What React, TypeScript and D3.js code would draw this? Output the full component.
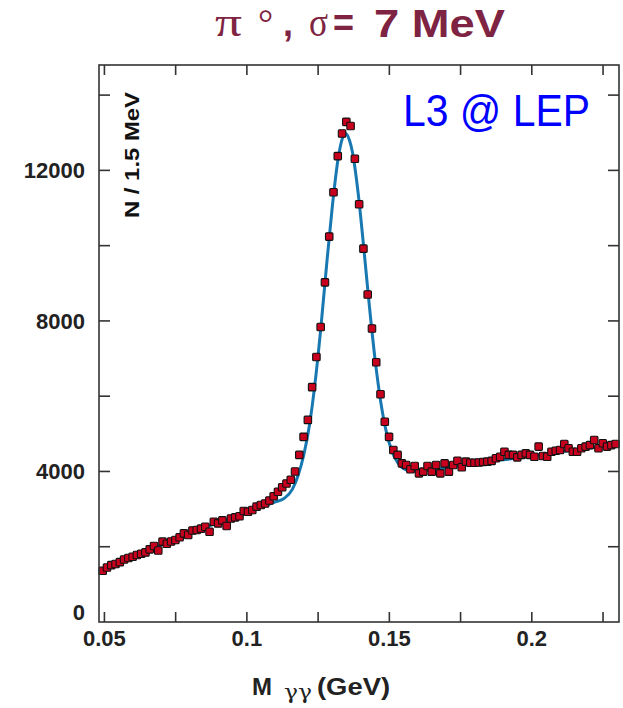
import React from 'react';
import * as d3 from 'd3';

// ---- data ----
const binStart = 0.0494; // GeV, centre of first visible bin
const binWidth = 0.0015; // 1.5 MeV bins
const counts = [
  1363, 1450, 1510, 1540, 1590, 1660, 1700, 1735, 1780, 1815,
  1850, 1930, 2020, 1900, 2135, 2080, 2140, 2180, 2250, 2355,
  2310, 2430, 2445, 2480, 2530, 2400, 2665, 2620, 2700, 2550,
  2750, 2780, 2810, 2950, 2930, 2975, 3065, 3110, 3150, 3230,
  3340, 3460, 3580, 3680, 3780, 4000, 4440, 4920, 5370, 6240,
  7040, 7840, 9025, 10240, 11420, 12380, 12980, 13290, 13180, 12310,
  11100, 9920, 8700, 7800, 6900, 6050, 5320, 4920, 4570, 4440,
  4215, 4170, 4057, 4145, 3950, 3995, 4145, 3995, 4170, 3950,
  4215, 3995, 4170, 4285, 4110, 4260, 4230, 4230, 4240, 4250,
  4260, 4280, 4350, 4390, 4525, 4440, 4440, 4375, 4440, 4480,
  4440, 4390, 4660, 4410, 4390, 4525, 4550, 4570, 4730, 4615,
  4525, 4525, 4615, 4660, 4700, 4835, 4615, 4750, 4660, 4700,
  4730,
];

const fitMass = [
  0.0481, 0.05, 0.06, 0.07, 0.08, 0.09, 0.1, 0.105, 0.11, 0.113,
  0.116, 0.118, 0.12, 0.122, 0.124, 0.126, 0.128, 0.13, 0.132, 0.1335,
  0.1347, 0.136, 0.137, 0.139, 0.141, 0.143, 0.145, 0.147, 0.149, 0.151,
  0.153, 0.156, 0.16, 0.17, 0.18, 0.19, 0.2, 0.21, 0.22, 0.2306,
];
const fitCounts = [
  1340, 1400, 1720, 2050, 2360, 2640, 2900, 3050, 3190, 3280,
  3530, 3900, 4450, 5250, 6400, 7850, 9500, 11050, 12300, 12850,
  12980, 12800, 12500, 11430, 9960, 8390, 6970, 5840, 5030, 4520,
  4225, 4040, 4000, 4100, 4220, 4310, 4420, 4520, 4620, 4700,
];

const xTicks = [0.05, 0.075, 0.1, 0.125, 0.15, 0.175, 0.2, 0.225];
const xTickLabels = ['0.05', '', '0.1', '', '0.15', '', '0.2', ''];
const yTicks = [0, 2000, 4000, 6000, 8000, 10000, 12000, 14000];
const yTickLabels = ['0', '', '4000', '', '8000', '', '12000', ''];

const W = 623;
const H = 708;
const L = 99, R = 619, T = 65, B = 622;

export default function App() {
  const x = d3.scaleLinear().domain([0.0481, 0.2306]).range([L, R]);
  const y = d3.scaleLinear().domain([0, 14800]).range([B, T]);

  const fitPts: [number, number][] = fitMass.map((m, i) => [m, fitCounts[i]]);
  const line = d3
    .line<[number, number]>()
    .x((d) => x(d[0]))
    .y((d) => y(d[1]))
    .curve(d3.curveMonotoneX);

  const pts = counts.map((c, i) => ({ m: binStart + i * binWidth, c }));
  const sz = 7.5;
  const tickLen = 10;
  const font = "'Liberation Sans', Arial, sans-serif";
  const maroon = '#7E2342';

  return (
    <svg
      width={W}
      height={H}
      style={{ position: 'absolute', left: 0, top: 0, background: '#fff' }}
      fontFamily={font}
    >
      <rect width={W} height={H} fill="#fff" />

      {/* title */}
      <g fill={maroon}>
        <text x={215} y={36} fontFamily="'Liberation Serif', serif" fontSize={42} textLength={27} lengthAdjust="spacingAndGlyphs">π</text>
        <text x={258} y={36} fontFamily="'Liberation Serif', serif" fontSize={38}>°</text>
        <text x={283} y={36} fontSize={36} fontWeight="bold">,</text>
        <text x={309} y={36} fontFamily="'Liberation Serif', serif" fontSize={42} textLength={19} lengthAdjust="spacingAndGlyphs">σ</text>
        <text x={333} y={36} fontSize={38} fontWeight="bold" textLength={21} lengthAdjust="spacingAndGlyphs">=</text>
        <text x={374} y={37} fontSize={38} fontWeight="bold" textLength={131} lengthAdjust="spacingAndGlyphs">7 MeV</text>
      </g>

      {/* fit curve */}
      <defs>
        <clipPath id="plotClip">
          <rect x={L} y={T} width={R - L} height={B - T} />
        </clipPath>
      </defs>
      <path d={line(fitPts) || ''} fill="none" stroke="#1778B2" strokeWidth={3} clipPath="url(#plotClip)" />

      {/* data points */}
      <g>
        {pts.map((p, i) => (
          <rect
            key={i}
            x={x(p.m) - sz / 2}
            y={y(p.c) - sz / 2}
            width={sz}
            height={sz}
            rx={1}
            fill="#C8001E"
            stroke="#111"
            strokeWidth={1.1}
          />
        ))}
      </g>

      {/* frame */}
      <rect x={L} y={T} width={R - L} height={B - T} fill="none" stroke="#333" strokeWidth={1.6} />

      {/* x ticks */}
      {xTicks.map((t, i) => (
        <g key={'xt' + i}>
          <line x1={x(t)} x2={x(t)} y1={B} y2={B - tickLen} stroke="#333" strokeWidth={1.6} />
          <line x1={x(t)} x2={x(t)} y1={T} y2={T + tickLen} stroke="#333" strokeWidth={1.6} />
          {xTickLabels[i] && (
            <text x={x(t)} y={646} textAnchor="middle" fontSize={22} fontWeight="bold" fill="#222">
              {xTickLabels[i]}
            </text>
          )}
        </g>
      ))}

      {/* y ticks */}
      {yTicks.map((t, i) => (
        <g key={'yt' + i}>
          {t > 0 && (
            <>
              <line x1={L} x2={L + tickLen + 1} y1={y(t)} y2={y(t)} stroke="#333" strokeWidth={1.6} />
              <line x1={R} x2={R - tickLen - 1} y1={y(t)} y2={y(t)} stroke="#333" strokeWidth={1.6} />
            </>
          )}
          {yTickLabels[i] && (
            <text
              x={85}
              y={t === 0 ? y(t) - 10 : y(t)}
              dy="0.36em"
              textAnchor="end"
              fontSize={22}
              fontWeight="bold"
              fill="#222"
            >
              {yTickLabels[i]}
            </text>
          )}
        </g>
      ))}

      {/* y axis title */}
      <text
        transform="translate(139,155) rotate(-90)"
        textAnchor="middle"
        fontSize={20}
        fontWeight="bold"
        fill="#111"
        textLength={126}
        lengthAdjust="spacingAndGlyphs"
      >
        N / 1.5 MeV
      </text>

      {/* x axis title */}
      <text x={252} y={695} fontSize={24} fontWeight="bold" fill="#222">
        M
      </text>
      <text x={284} y={699} fontSize={20} fontFamily="'DejaVu Serif', serif" fill="#222" textLength={28} lengthAdjust="spacingAndGlyphs">
        γγ
      </text>
      <text x={317} y={695} fontSize={23} fontWeight="bold" fill="#222" textLength={73} lengthAdjust="spacingAndGlyphs">
        (GeV)
      </text>

      {/* experiment label */}
      <text x={403} y={126} fontSize={45} fill="#0000FF" textLength={187} lengthAdjust="spacingAndGlyphs">
        L3 @ LEP
      </text>
    </svg>
  );
}
